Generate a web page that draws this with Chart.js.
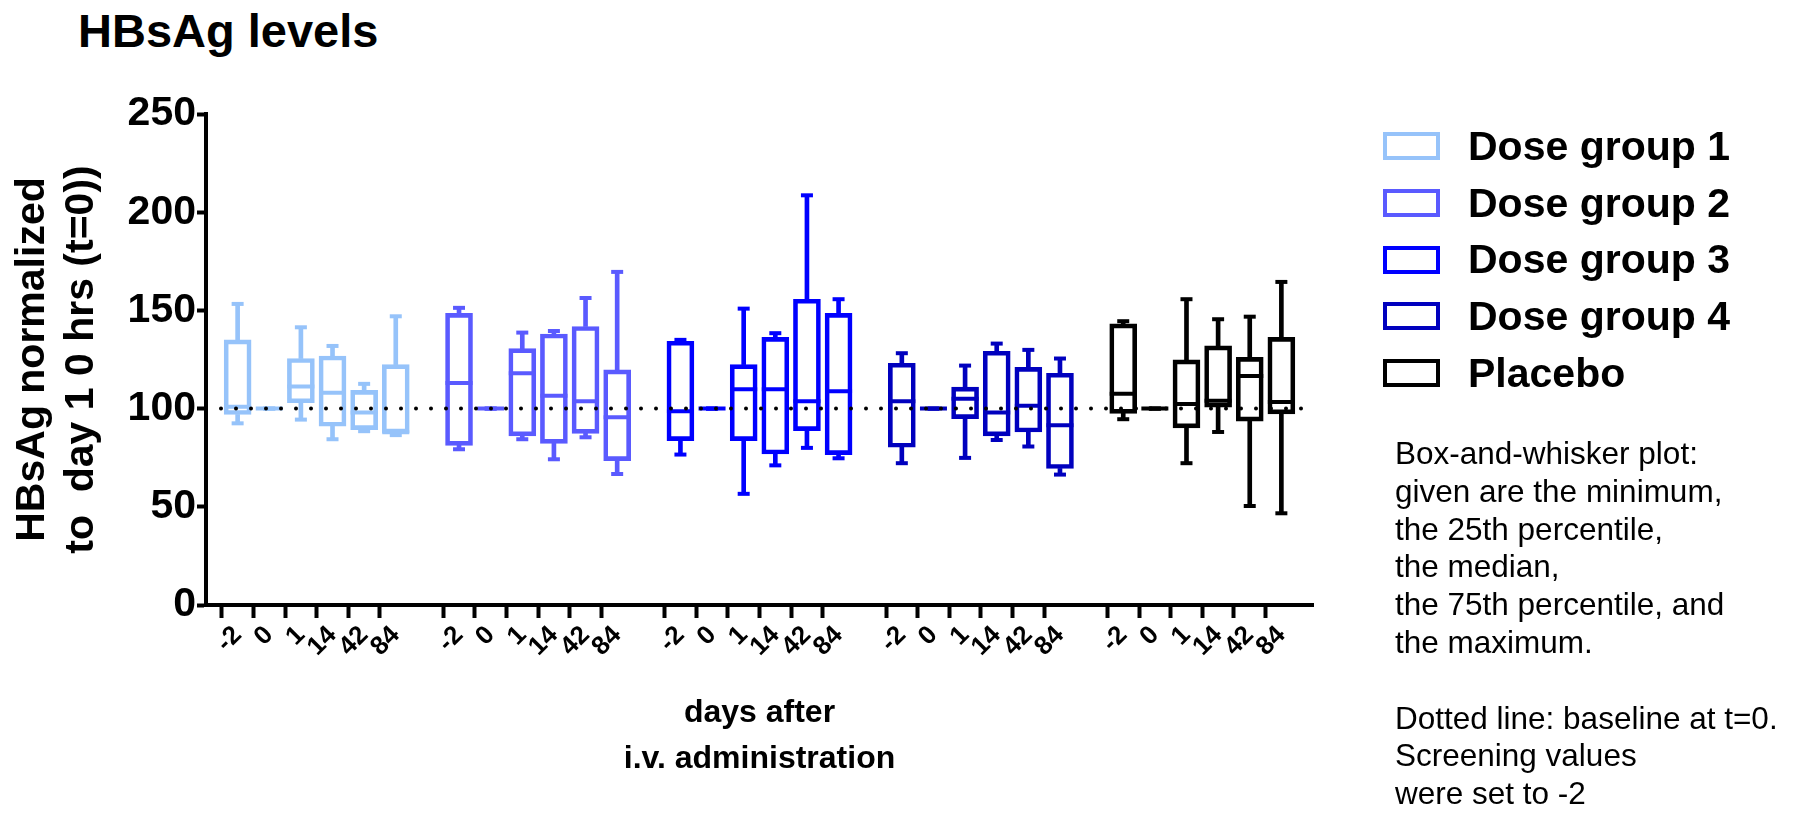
<!DOCTYPE html>
<html lang="en">
<head>
  <meta charset="UTF-8">
  <title>HBsAg levels</title>
  <style>
    html, body { margin: 0; padding: 0; background: #fff; }
    body { width: 1795px; height: 813px; position: relative; overflow: hidden;
           font-family: "Liberation Sans", Arial, sans-serif; color: #000; }
    #grafico { position: absolute; left: 0; top: 0; }
    .titulo { position: absolute; left: 78px; top: 7px; font-size: 47px; line-height: 47px; font-weight: bold; }
    #leyenda { position: absolute; left: 1383px; top: 118px; }
    .item { display: flex; align-items: center; height: 56.7px; font-size: 41px; font-weight: bold; }
    .caja { width: 49px; height: 20px; border: 4px solid; margin-right: 28px; background: #fff; }
    .nota { position: absolute; left: 1395px; top: 435px; font-size: 31.5px; line-height: 37.8px; }
  </style>
</head>
<body>
  <div class="titulo">HBsAg levels</div>
  <canvas id="grafico" width="1795" height="813"></canvas>
  <div id="leyenda"></div>
  <div class="nota">
    Box-and-whisker plot:<br>
    given are the minimum,<br>
    the 25th percentile,<br>
    the median,<br>
    the 75th percentile, and<br>
    the maximum.<br>
    <br>
    Dotted line: baseline at t=0.<br>
    Screening values<br>
    were set to -2
  </div>

  <script src="https://cdn.jsdelivr.net/npm/chart.js"></script>

  <script>
    const grupos = ["Dose group 1", "Dose group 2", "Dose group 3", "Dose group 4", "Placebo"];
    const colores = ["#96C3FA", "#5A5AFF", "#0000FF", "#0000BE", "#000000"];
    const dias = ["-2", "0", "1", "14", "42", "84"];
    const baseline = 100;

    // one row per group, one value per day (-2, 0, 1, 14, 42, 84)
    const minimo = [
      92.5, 100, 94.4, 84.4, 88.5, 86.5,
      79.3, 100, 84.4, 74.2, 85.4, 66.7,
      76.6, 100, 56.6, 71.1, 80.0, 74.7,
      72.2, 100, 74.9, 84.0, 80.7, 66.4,
      94.6, 100, 72.2, 88.1, 50.4, 46.7
    ];
    const p25 = [
      97.0, 100, 103.0, 91.0, 89.3, 87.5,
      81.3, 100, 86.1, 82.3, 87.4, 73.5,
      83.7, 100, 83.7, 76.9, 88.8, 76.6,
      80.3, 100, 94.9, 86.1, 88.1, 69.5,
      97.6, 100, 90.2, 100.7, 93.6, 97.3
    ];
    const mediana = [
      101.0, 100, 111.2, 108.1, 98.0, 88.0,
      113.0, 100, 118.0, 106.6, 103.7, 95.6,
      98.6, 100, 109.8, 109.8, 103.7, 108.8,
      103.7, 100, 105.0, 98.0, 101.4, 91.5,
      107.5, 100, 102.4, 104.0, 116.6, 103.4
    ];
    const p75 = [
      135.0, 100, 125.5, 126.8, 109.3, 122.4,
      148.5, 100, 130.5, 138.0, 141.8, 119.7,
      134.3, 100, 122.4, 136.3, 155.7, 148.5,
      123.1, 100, 110.9, 129.2, 121.0, 118.0,
      143.1, 100, 124.8, 131.9, 126.1, 136.3
    ];
    const maximo = [
      153.3, 100, 141.4, 131.9, 112.6, 147.0,
      151.3, 100, 138.7, 139.5, 156.3, 169.6,
      135.0, 100, 150.9, 138.4, 208.6, 155.7,
      128.2, 100, 121.9, 133.1, 129.9, 125.5,
      144.5, 100, 155.7, 145.5, 146.8, 164.5
    ];

    document.addEventListener("DOMContentLoaded", () => {
      // categories: empty slot before, between and after the groups
      const etiquetas = [""];
      const indice = [null];
      const colorCat = ["rgba(0,0,0,0)"];
      grupos.forEach((g, gi) => {
        dias.forEach((d, di) => {
          etiquetas.push(d);
          indice.push(gi * dias.length + di);
          colorCat.push(colores[gi]);
        });
        etiquetas.push("");
        indice.push(null);
        colorCat.push("rgba(0,0,0,0)");
      });

      const porCat = (f) => indice.map(i => i === null ? null : f(i));

      // legend
      const leyenda = document.getElementById("leyenda");
      grupos.forEach((g, gi) => {
        const item = document.createElement("div");
        item.className = "item";
        const caja = document.createElement("span");
        caja.className = "caja";
        caja.style.borderColor = colores[gi];
        item.appendChild(caja);
        item.appendChild(document.createTextNode(g));
        leyenda.appendChild(item);
      });

      const fuente = "'Liberation Sans', Arial, sans-serif";
      const lienzo = document.getElementById("grafico");

      new Chart(lienzo, {
        type: "bar",
        data: {
          labels: etiquetas,
          datasets: [
            {
              type: "line",
              data: etiquetas.map(() => baseline),
              borderColor: "#000",
              borderWidth: 4,
              borderDash: [0, 15],
              borderCapStyle: "round",
              pointRadius: 0,
              fill: false,
              order: 0
            },
            {
              type: "line",
              data: porCat(i => mediana[i]),
              showLine: false,
              pointStyle: "line",
              pointRadius: 13.5,
              pointBorderWidth: 4,
              pointBorderColor: colorCat,
              order: 1
            },
            {
              type: "line",
              data: porCat(i => minimo[i]),
              showLine: false,
              pointStyle: "line",
              pointRadius: 6,
              pointBorderWidth: 4,
              pointBorderColor: colorCat,
              order: 1
            },
            {
              type: "line",
              data: porCat(i => maximo[i]),
              showLine: false,
              pointStyle: "line",
              pointRadius: 6,
              pointBorderWidth: 4,
              pointBorderColor: colorCat,
              order: 1
            },
            {
              data: porCat(i => [p25[i], p75[i]]),
              backgroundColor: "rgba(0,0,0,0)",
              borderColor: colorCat,
              borderWidth: 4,
              borderSkipped: false,
              barThickness: 27,
              grouped: false,
              order: 2
            },
            {
              data: porCat(i => [minimo[i], p25[i]]),
              backgroundColor: colorCat,
              borderWidth: 0,
              barThickness: 4,
              grouped: false,
              order: 3
            },
            {
              data: porCat(i => [p75[i], maximo[i]]),
              backgroundColor: colorCat,
              borderWidth: 0,
              barThickness: 4,
              grouped: false,
              order: 3
            }
          ]
        },
        options: {
          responsive: false,
          animation: false,
          events: [],
          layout: { padding: { left: 8, right: 482, top: 114, bottom: 0 } },
          plugins: {
            legend: { display: false },
            tooltip: { enabled: false }
          },
          scales: {
            x: {
              offset: false,
              grid: {
                drawOnChartArea: false,
                tickLength: 13,
                tickWidth: 4,
                tickColor: (ctx) => etiquetas[ctx.index] === "" ? "rgba(0,0,0,0)" : "#000"
              },
              border: { display: true, width: 4, color: "#000" },
              ticks: {
                autoSkip: false,
                minRotation: 45,
                maxRotation: 45,
                padding: 2,
                color: "#000",
                font: { family: fuente, size: 26, weight: "bold" }
              },
              title: {
                display: true,
                text: ["days after", "i.v. administration"],
                color: "#000",
                font: { family: fuente, size: 32, weight: "bold", lineHeight: 1.44 },
                padding: { top: 0, bottom: 31 }
              },
              afterFit: (s) => { s.height = 208; }
            },
            y: {
              min: 0,
              max: 250,
              grid: { drawOnChartArea: false, tickLength: 9, tickWidth: 4, tickColor: "#000" },
              border: { display: true, width: 4, color: "#000" },
              ticks: {
                stepSize: 50,
                padding: 1,
                color: "#000",
                font: { family: fuente, size: 41, weight: "bold" }
              },
              title: {
                display: true,
                text: ["HBsAg normalized", "to  day 1 0 hrs (t=0))"],
                color: "#000",
                font: { family: fuente, size: 41, weight: "bold", lineHeight: 1.2 },
                padding: { top: 0, bottom: 0 }
              },
              afterFit: (s) => { s.width = 198; }
            }
          }
        }
      });
    });
  </script>
</body>
</html>
